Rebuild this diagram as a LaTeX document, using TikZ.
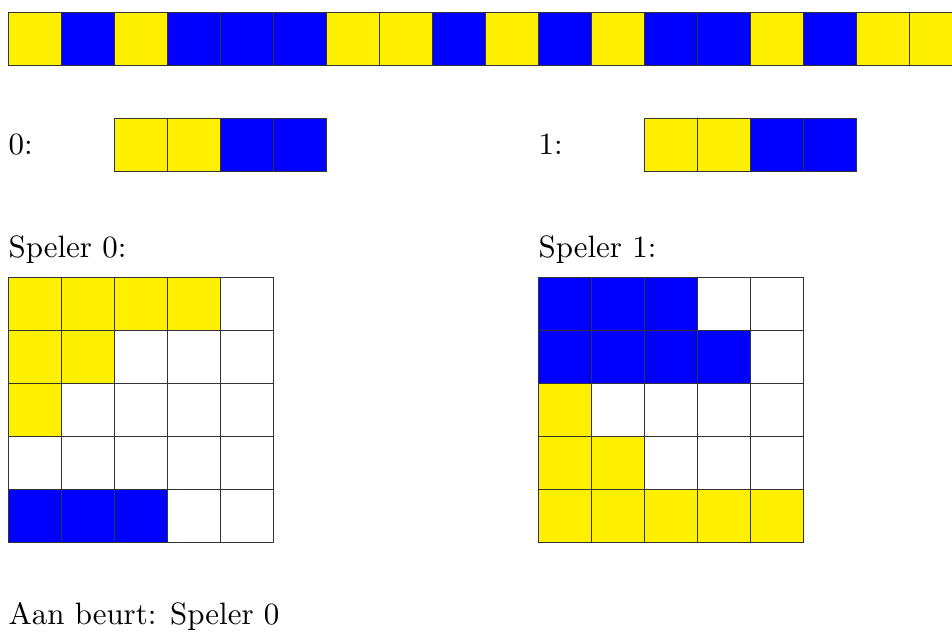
\documentclass[tikz,border=0pt]{standalone}
\usepackage{tikz}
\definecolor{tileY}{RGB}{255,240,0}
\definecolor{tileB}{RGB}{0,0,255}
\definecolor{tileW}{RGB}{255,255,255}
\tikzset{
  tile/.style={draw=black!80, line width=0.5pt},
  lbl/.style={anchor=base west, inner sep=0pt, font=\fontsize{10}{12}\selectfont, scale=1.66}
}
\begin{document}
\begin{tikzpicture}[x=1cm,y=1cm]
  \useasboundingbox (0,0) rectangle (17.962,-11.962);
  \clip (0,0) rectangle (17.962,-11.962);
  % row of the full sequence
  \foreach \c [count=\i from 0] in {Y,B,Y,B,B,B,Y,Y,B,Y,B,Y,B,B,Y,B,Y,Y}
    \draw[tile, fill=tile\c] (0.151+\i,-0.226) rectangle ++(1,-1);
  % hands of both players
  \node[lbl] (h0) at (0.151,-2.92) {0:};
  \node[lbl] (h1) at (10.151,-2.92) {1:};
  \foreach \c [count=\i from 0] in {Y,Y,B,B} {
    \draw[tile, fill=tile\c] (2.151+\i,-2.226) rectangle ++(1,-1);
    \draw[tile, fill=tile\c] (12.151+\i,-2.226) rectangle ++(1,-1);
  }
  % boards
  \node[lbl] (s0) at (0.151,-4.85) {Speler 0:};
  \node[lbl] (s1) at (10.151,-4.85) {Speler 1:};
  \foreach \row [count=\r from 0] in {{Y,Y,Y,Y,W},{Y,Y,W,W,W},{Y,W,W,W,W},{W,W,W,W,W},{B,B,B,W,W}}
    \foreach \c [count=\i from 0] in \row
      \draw[tile, fill=tile\c] (0.151+\i,-5.226-\r) rectangle ++(1,-1);
  \foreach \row [count=\r from 0] in {{B,B,B,W,W},{B,B,B,B,W},{Y,W,W,W,W},{Y,Y,W,W,W},{Y,Y,Y,Y,Y}}
    \foreach \c [count=\i from 0] in \row
      \draw[tile, fill=tile\c] (10.151+\i,-5.226-\r) rectangle ++(1,-1);
  \node[lbl] (turn) at (0.151,-11.79) {Aan beurt: Speler 0};
\end{tikzpicture}
\end{document}
